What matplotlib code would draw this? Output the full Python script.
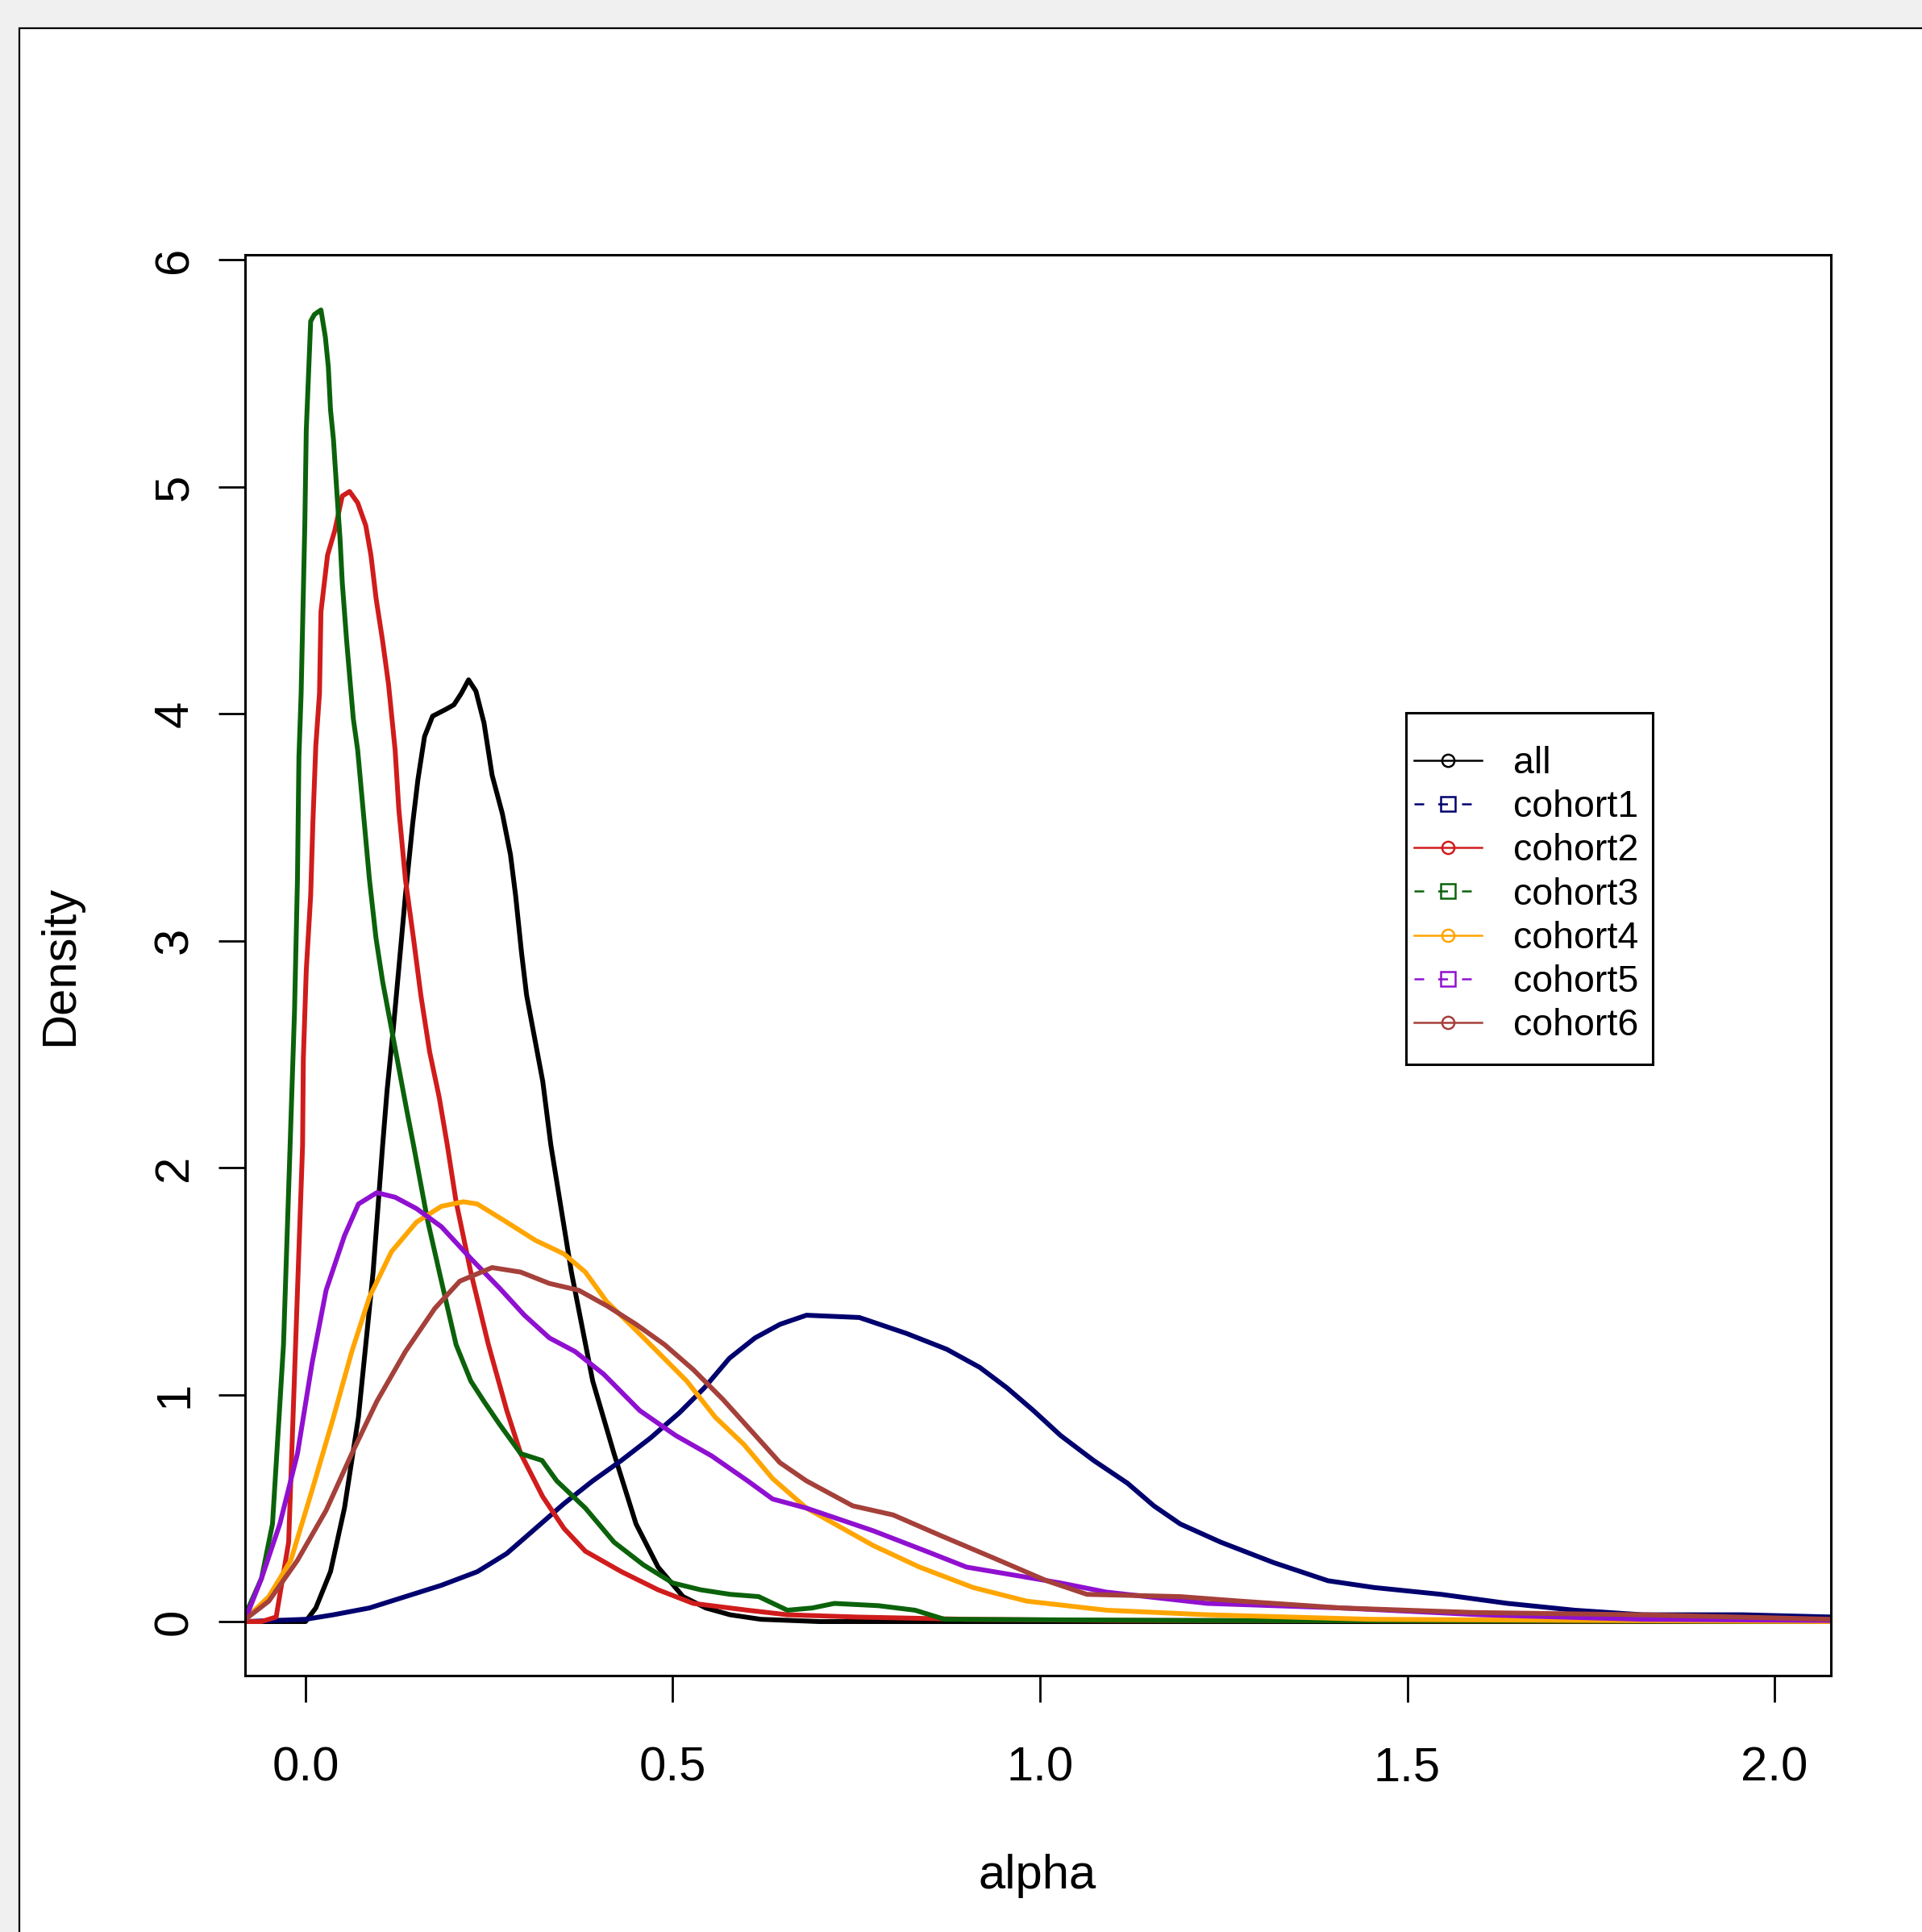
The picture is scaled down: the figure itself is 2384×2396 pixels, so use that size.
import matplotlib.pyplot as plt
from matplotlib.lines import Line2D
from matplotlib.patches import Rectangle

plt.rcParams['font.family'] = ['Liberation Sans', 'DejaVu Sans']

# density curves (alpha, density)
all_x = [-0.082, 0.0, 0.014, 0.034, 0.053, 0.072, 0.092, 0.105, 0.111, 0.120, 0.129, 0.136,
         0.146, 0.153, 0.162, 0.173, 0.191, 0.202, 0.212, 0.222, 0.232, 0.243, 0.254, 0.268,
         0.279, 0.286, 0.294, 0.301, 0.312, 0.323, 0.334, 0.362, 0.391, 0.42, 0.45, 0.48,
         0.514, 0.545, 0.578, 0.62, 0.7, 0.9, 2.079]
all_y = [0.0, 0.0, 0.06, 0.22, 0.50, 0.90, 1.54, 2.10, 2.34, 2.63, 2.95, 3.20,
         3.52, 3.71, 3.90, 3.99, 4.02, 4.04, 4.09, 4.15, 4.10, 3.96, 3.73, 3.56,
         3.38, 3.20, 2.95, 2.76, 2.57, 2.38, 2.10, 1.54, 1.06, 0.74, 0.43, 0.24,
         0.11, 0.06, 0.03, 0.01, 0.0, 0.0, 0.0]

c1_x = [-0.082, 0.0, 0.038, 0.087, 0.136, 0.185, 0.234, 0.274, 0.313, 0.352, 0.391, 0.43,
        0.47, 0.509, 0.543, 0.577, 0.612, 0.646, 0.682, 0.754, 0.818, 0.873, 0.918, 0.955,
        0.991, 1.028, 1.073, 1.119, 1.155, 1.191, 1.246, 1.318, 1.392, 1.455, 1.546, 1.637,
        1.728, 1.82, 1.956, 2.079]
c1_y = [0.0, 0.01, 0.03, 0.06, 0.11, 0.16, 0.22, 0.30, 0.41, 0.52, 0.62, 0.71,
        0.81, 0.92, 1.03, 1.16, 1.25, 1.31, 1.35, 1.34, 1.27, 1.20, 1.12, 1.03,
        0.93, 0.82, 0.71, 0.61, 0.51, 0.43, 0.35, 0.26, 0.18, 0.15, 0.12, 0.08,
        0.05, 0.03, 0.03, 0.02]

c2_x = [-0.082, -0.06, -0.04, -0.023, -0.004, -0.003, 0.001, 0.007, 0.010, 0.014, 0.019, 0.021,
        0.030, 0.040, 0.050, 0.060, 0.071, 0.082, 0.089, 0.096, 0.105, 0.113, 0.122, 0.127,
        0.136, 0.147, 0.157, 0.169, 0.182, 0.193, 0.205, 0.225, 0.249, 0.274, 0.293, 0.323,
        0.352, 0.381, 0.43, 0.48, 0.528, 0.602, 0.656, 0.75, 0.9, 1.1, 2.079]
c2_y = [0.0, 0.0, 0.02, 0.35, 2.10, 2.48, 2.87, 3.20, 3.52, 3.86, 4.09, 4.45,
        4.70, 4.81, 4.96, 4.98, 4.93, 4.83, 4.70, 4.51, 4.32, 4.13, 3.84, 3.58,
        3.27, 3.01, 2.76, 2.51, 2.31, 2.10, 1.85, 1.54, 1.22, 0.93, 0.74, 0.55,
        0.41, 0.31, 0.22, 0.14, 0.08, 0.05, 0.03, 0.02, 0.01, 0.005, 0.0]

c3_x = [-0.082, -0.06, -0.045, -0.03, -0.021, -0.015, -0.011, -0.009, -0.006, -0.001, 0.001, 0.007,
        0.012, 0.021, 0.027, 0.031, 0.034, 0.038, 0.043, 0.047, 0.050, 0.056, 0.061, 0.065,
        0.071, 0.080, 0.087, 0.096, 0.105, 0.116, 0.127, 0.138, 0.147, 0.166, 0.185, 0.205,
        0.225, 0.243, 0.264, 0.293, 0.322, 0.342, 0.381, 0.42, 0.46, 0.5, 0.538, 0.578,
        0.617, 0.656, 0.69, 0.72, 0.78, 0.83, 0.87, 1.2, 2.079]
c3_y = [0.03, 0.19, 0.43, 1.22, 2.10, 2.69, 3.27, 3.81, 4.09, 4.83, 5.25, 5.73,
        5.76, 5.78, 5.66, 5.53, 5.34, 5.21, 4.96, 4.77, 4.58, 4.32, 4.13, 3.98,
        3.84, 3.52, 3.27, 3.01, 2.82, 2.63, 2.44, 2.25, 2.10, 1.77, 1.50, 1.22,
        1.06, 0.97, 0.87, 0.74, 0.71, 0.62, 0.50, 0.35, 0.25, 0.17, 0.14, 0.12,
        0.11, 0.05, 0.06, 0.08, 0.07, 0.05, 0.01, 0.005, 0.0]

c4_x = [-0.082, -0.05, -0.02, 0.009, 0.038, 0.063, 0.087, 0.117, 0.151, 0.185, 0.215, 0.234,
        0.274, 0.313, 0.352, 0.381, 0.41, 0.445, 0.479, 0.519, 0.558, 0.597, 0.636, 0.682,
        0.773, 0.836, 0.909, 0.982, 1.091, 1.228, 1.45, 2.079]
c4_y = [0.01, 0.11, 0.27, 0.58, 0.90, 1.19, 1.43, 1.63, 1.76, 1.83, 1.85, 1.84,
        1.76, 1.68, 1.62, 1.54, 1.41, 1.30, 1.19, 1.06, 0.90, 0.78, 0.63, 0.50,
        0.335, 0.24, 0.15, 0.09, 0.05, 0.03, 0.01, 0.0]

c5_x = [-0.082, -0.06, -0.035, -0.011, 0.009, 0.028, 0.053, 0.072, 0.097, 0.122, 0.151, 0.185,
        0.225, 0.264, 0.298, 0.332, 0.367, 0.406, 0.455, 0.504, 0.553, 0.602, 0.636, 0.682,
        0.773, 0.845, 0.9, 0.955, 1.028, 1.09, 1.228, 1.41, 1.6, 1.82, 2.079]
c5_y = [0.01, 0.19, 0.43, 0.74, 1.14, 1.46, 1.70, 1.84, 1.89, 1.87, 1.82, 1.74,
        1.60, 1.47, 1.35, 1.25, 1.19, 1.09, 0.93, 0.82, 0.73, 0.62, 0.54, 0.50,
        0.40, 0.31, 0.24, 0.21, 0.17, 0.13, 0.08, 0.06, 0.03, 0.01, 0.005]

c6_x = [-0.082, -0.05, -0.011, 0.028, 0.063, 0.097, 0.136, 0.176, 0.21, 0.254, 0.293, 0.332,
        0.372, 0.411, 0.45, 0.489, 0.528, 0.568, 0.607, 0.646, 0.682, 0.745, 0.8, 0.864,
        0.937, 1.009, 1.064, 1.191, 1.273, 1.41, 1.59, 1.82, 2.079]
c6_y = [0.01, 0.09, 0.27, 0.49, 0.74, 0.97, 1.19, 1.38, 1.50, 1.56, 1.54, 1.49,
        1.46, 1.39, 1.31, 1.22, 1.11, 0.98, 0.84, 0.70, 0.62, 0.51, 0.47, 0.38,
        0.28, 0.18, 0.12, 0.11, 0.09, 0.06, 0.04, 0.03, 0.01]

labels = ['all', 'cohort1', 'cohort2', 'cohort3', 'cohort4', 'cohort5', 'cohort6']
colors = ['black', '#00006e', '#d01c1c', '#0b620b', '#ffa500', '#9010d0', '#a5403a']
x_ticks = [0.0, 0.5, 1.0, 1.5, 2.0]
y_ticks = [0, 1, 2, 3, 4, 5, 6]

curves = [(all_x, all_y), (c1_x, c1_y), (c2_x, c2_y), (c3_x, c3_y),
          (c4_x, c4_y), (c5_x, c5_y), (c6_x, c6_y)]

W, H = 2384, 2396
fig = plt.figure(figsize=(W / 100, H / 100), dpi=100, facecolor='#f0f0f0')
# white panel of the R window
fig.patches.append(Rectangle((24 / W, -0.1), 1.2, 1.1 - 35 / H, transform=fig.transFigure,
                             facecolor='white', edgecolor='black', linewidth=1.6, zorder=-10))

ax = fig.add_axes([304 / W, 1 - 2078 / H, (2271 - 304) / W, (2078 - 316) / H])

for (xs, ys), col, lab in zip(curves, colors, labels):
    ax.plot(xs, ys, color=col, linewidth=4.3, label=lab)

ax.set_xlim(-0.0823, 2.0768)
ax.set_ylim(-0.238, 6.023)
ax.set_xticks(x_ticks)
ax.set_xticklabels([f'{t:.1f}' for t in x_ticks])
ax.set_yticks(y_ticks)
ax.set_yticklabels([str(t) for t in y_ticks], rotation=90, va='center')
ax.tick_params(axis='both', direction='out', length=24, width=2.0, labelsize=43)
ax.tick_params(axis='x', pad=39)
ax.tick_params(axis='y', pad=19)
for s in ax.spines.values():
    s.set_linewidth(2.2)

fig.text(1287 / W, 1 - 2327 / H, 'alpha', fontsize=43, ha='center', va='center')
fig.text(75 / W, 1 - 1197 / H, 'Density', fontsize=43, ha='center', va='center', rotation=90)

# legend like R's legend(): solid lines with circles, dashed with squares
handles = []
for i, (col, lab) in enumerate(zip(colors, labels)):
    if i % 2 == 1:
        h = Line2D([], [], color=col, linewidth=1.8, linestyle=(0, (4.8, 7)), marker='s',
                   markersize=13, markerfacecolor='none', markeredgewidth=1.8)
    else:
        h = Line2D([], [], color=col, linewidth=1.8, marker='o',
                   markersize=11, markerfacecolor='none', markeredgewidth=1.8)
    handles.append(h)

leg = ax.legend(handles, labels, loc='upper left', bbox_to_anchor=(1754 / W, 1 - 925 / H),
                bbox_transform=fig.transFigure, borderaxespad=0, borderpad=0, fontsize=33.5,
                frameon=False, handlelength=1.8, handletextpad=0.85, labelspacing=0.22)
# legend box drawn as in R
fig.patches.append(Rectangle((1744 / W, 1 - 1320 / H), (2050 - 1744) / W, (1320 - 884) / H,
                             transform=fig.transFigure, facecolor='none', edgecolor='black',
                             linewidth=2.2, zorder=5))

fig.savefig('out.png', dpi=100, facecolor=fig.get_facecolor())
